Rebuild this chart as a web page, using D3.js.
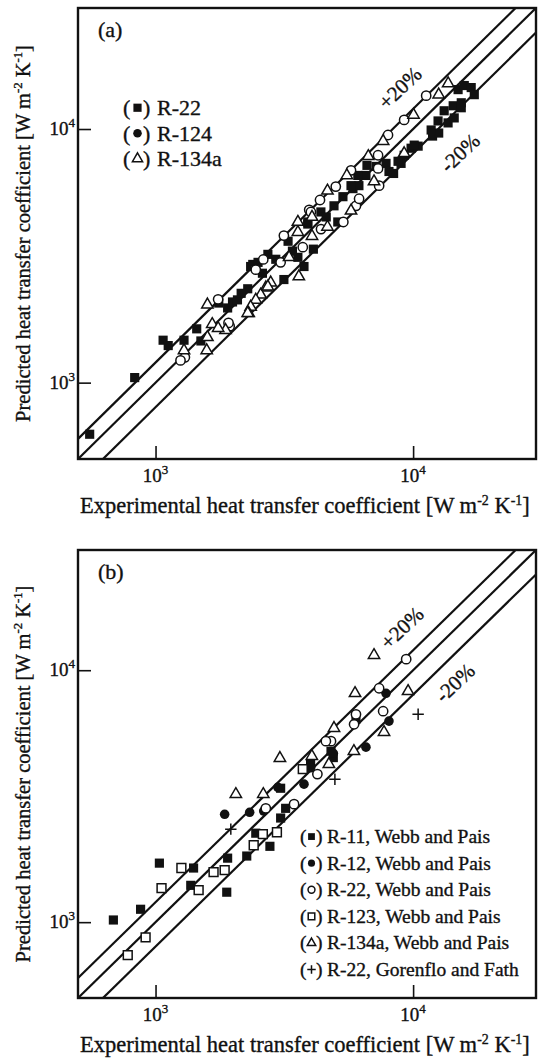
<!DOCTYPE html>
<html>
<head>
<meta charset="utf-8">
<script src="https://cdn.jsdelivr.net/npm/d3@7.9.0/dist/d3.min.js"></script>
<style>
  body { margin: 0; background: #fff; }
  svg { display: block; }
  text { font-family: "Liberation Serif", "Times New Roman", serif; fill: #111; stroke: #111; stroke-width: 0.35px; }
</style>
</head>
<body>
<svg id="chart" width="541" height="1058"></svg>
<script>
// shared axes (both panels are log-log, same range)
const domainHT = [500, 30000];
const tickVals = [1000, 10000];
const tickExp = ['3', '4'];
const guideRatios = [1.2, 1.0, 0.8];
const guideLabels = ['+20%', '-20%'];

// panel (a) : [experimental, predicted]
const aR22 = [[555,626],[830,1047],[1070,1470],[1120,1400],[1290,1470],[1445,1630],[1500,1460],[1760,2060],
  [1905,1970],[1990,2080],[2080,2120],[2280,2345],[2340,2870],[2385,2925],[2500,2980],[2730,3205],[2930,3065],
  [3150,2550],[3270,3610],[3570,3120],[3770,2870],[3900,4220],[4100,3360],[3900,4300],[4385,4710],[4930,4980],
  [5100,4300],[5340,5410],[5840,5820],[6160,5980],[6560,6560],[7180,7120],[7850,7320],[8060,6800],[8400,6680],
  [8980,7320],[9230,7880],[9820,8400],[10460,8560],[11900,9380],[12570,9640],[13670,10570],[14440,11060],
  [13200,11800],[14310,12350],[15380,12130],[14950,14300],[15800,14840],[16810,14570],[17280,13660],
  [15380,12690],[12500,10760],[11750,9910],[10100,8640],[8740,7460],[6620,7190],[5740,5980],[6100,6560],
  [2600,2700],[3400,3300],[4600,4500],[2150,2250]];
const aR124 = [[1300,1258],[1250,1224],[1940,1670],[1750,2130],[1920,1720],[2450,2790],[2620,3060],[3150,3800],
  [3060,2980],[3730,3420],[3950,4800],[4010,4710],[4350,5250],[5010,5930],[4390,4030],[5360,4300],[5740,6870],
  [6000,4980],[6170,5310],[7310,7880],[7310,6990],[7380,5980],[7990,9470],[9230,10860],[11240,13540]];
const aR134a = [[13680,15110],[12570,13660],[10040,11370],[7650,8960],[6700,7810],[5530,6560],[4650,5710],
  [4050,4500],[3570,3920],[9230,8020],[7050,6210],[5740,4760],[4650,4110],[3570,4300],[4050,3780],[3600,2620],
  [3300,3120],[2800,2480],[2680,2370],[2560,2220],[2450,2120],[2340,1990],[2300,1880],[1590,2030],[1660,1700],
  [1870,1610],[1590,1510],[1580,1340],[1750,1640],[2280,1880],[2730,2390],[1290,1340]];

// panel (b)
const bR11 = [[686,1020],[875,1125],[1035,1715],[1405,1640],[1370,1400],[1890,1315],[1905,1795],[2260,1830],
  [2450,2255],[2780,2000],[3060,2590],[3200,2830],[3060,3400],[4000,4240],[4800,4770],[4900,4500],[6000,6400]];
const bR12 = [[1855,2680],[2320,2730],[2630,2760],[2985,3430],[3770,3530],[7850,8100],[8060,6280],[6560,4950],
  [4900,4680],[4000,4100]];
const bR22 = [[9400,11060],[7380,8480],[7650,6875],[5900,6100],[6000,6680],[4800,5230],[4585,5230],[4250,3870],
  [3450,2940],[2680,2830]];
const bR123 = [[780,740],[915,870],[1055,1365],[1260,1640],[1470,1340],[1680,1580],[1855,1610],[2405,2020],
  [2610,2235],[2960,2275],[3730,4050]];
const bR134a = [[2050,3220],[2620,3220],[3040,4475],[4045,4560],[4710,4240],[4930,5890],[5950,8100],
  [7050,11470],[9560,8250],[7710,5675],[5890,4770]];
const bR22GF = [[1960,2340],[4970,3690],[10460,6690]];

const aLegend = ['R-22', 'R-124', 'R-134a'];
const bLegend = ['R-11, Webb and Pais', 'R-12, Webb and Pais', 'R-22, Webb and Pais',
  'R-123, Webb and Pais', 'R-134a, Webb and Pais', 'R-22, Gorenflo and Fath'];

const svg = d3.select('#chart');
const LEFT = 78, RIGHT = 536;

// thin "+" marker
const plusType = {
  draw(ctx, size) {
    const r = Math.sqrt(size) / 2;
    ctx.moveTo(-r, 0); ctx.lineTo(r, 0);
    ctx.moveTo(0, -r); ctx.lineTo(0, r);
  }
};

const marks = {
  fsq: { type: d3.symbolSquare, size: 84, fill: '#111', stroke: 'none' },
  fci: { type: d3.symbolCircle, size: 72, fill: '#111', stroke: 'none' },
  oci: { type: d3.symbolCircle, size: 68, fill: '#fff', stroke: '#111' },
  osq: { type: d3.symbolSquare, size: 78, fill: '#fff', stroke: '#111' },
  otr: { type: d3.symbolTriangle, size: 56, fill: '#fff', stroke: '#111' },
  plus: { type: plusType, size: 130, fill: 'none', stroke: '#111' }
};

function drawMark(g, m, cx, cy, scale = 1) {
  g.append('path')
    .attr('d', d3.symbol().type(m.type).size(m.size * scale)())
    .attr('transform', `translate(${cx},${cy})`)
    .attr('fill', m.fill)
    .attr('stroke', m.stroke)
    .attr('stroke-width', 1.5);
}

// "[W m-2 K-1]" with superscripts
function unitsLabel(t, lead) {
  t.append('tspan').text(lead + '[W m');
  t.append('tspan').attr('dy', -8).attr('font-size', '0.62em').text('-2');
  t.append('tspan').attr('dy', 8).text(' K');
  t.append('tspan').attr('dy', -8).attr('font-size', '0.62em').text('-1');
  t.append('tspan').attr('dy', 8).text(']');
}

function powLabel(t, i) {
  t.append('tspan').text('10');
  t.append('tspan').attr('dy', -8).attr('font-size', 13).text(tickExp[i]);
}

function drawPanel(p) {
  const g = svg.append('g');
  const x = d3.scaleLog().domain(domainHT).range([LEFT, RIGHT]);
  const y = d3.scaleLog().domain(domainHT).range([p.bottom, p.top]);

  const clipId = 'clip-' + p.id;
  g.append('clipPath').attr('id', clipId).append('rect')
    .attr('x', LEFT).attr('y', p.top)
    .attr('width', RIGHT - LEFT).attr('height', p.bottom - p.top);

  // y = x and the +/-20% band
  const line = d3.line().x(d => x(d[0])).y(d => y(d[1]));
  g.append('g').attr('clip-path', `url(#${clipId})`)
    .selectAll('path').data(guideRatios).join('path')
    .attr('d', r => line([[200, 200 * r], [80000, 80000 * r]]))
    .attr('fill', 'none').attr('stroke', '#111').attr('stroke-width', 2.2);

  // ticks (inward)
  g.append('g').attr('transform', `translate(0,${p.bottom})`)
    .call(d3.axisBottom(x).tickValues(tickVals).tickSizeInner(-13).tickSizeOuter(0).tickFormat(''))
    .call(a => a.select('.domain').remove())
    .selectAll('line').attr('stroke', '#111').attr('stroke-width', 1.6);
  g.append('g').attr('transform', `translate(${LEFT},0)`)
    .call(d3.axisLeft(y).tickValues(tickVals).tickSizeInner(-13).tickSizeOuter(0).tickFormat(''))
    .call(a => a.select('.domain').remove())
    .selectAll('line').attr('stroke', '#111').attr('stroke-width', 1.6);

  g.append('rect')
    .attr('x', LEFT).attr('y', p.top)
    .attr('width', RIGHT - LEFT).attr('height', p.bottom - p.top)
    .attr('fill', 'none').attr('stroke', '#111').attr('stroke-width', 2.4);

  tickVals.forEach((v, i) => {
    powLabel(g.append('text').attr('x', x(v)).attr('y', p.bottom + 23)
      .attr('text-anchor', 'middle').attr('font-size', 19), i);
    powLabel(g.append('text').attr('x', LEFT - 3).attr('y', y(v) + 6)
      .attr('text-anchor', 'end').attr('font-size', 19), i);
  });

  unitsLabel(g.append('text').attr('x', 80).attr('y', p.bottom + 54).attr('font-size', 22.5),
    'Experimental heat transfer coefficient ');
  unitsLabel(g.append('text')
    .attr('transform', `translate(30,${(p.top + p.bottom) / 2}) rotate(-90)`)
    .attr('text-anchor', 'middle').attr('font-size', 20.5),
    'Predicted heat transfer coefficient ');

  g.append('text').attr('x', 98).attr('y', p.top + 29).attr('font-size', 22).text(p.tag);

  [p.plusAt, p.minusAt].forEach((c, i) => {
    g.append('text')
      .attr('transform', `translate(${c[0]},${c[1]}) rotate(-44)`)
      .attr('text-anchor', 'middle').attr('dominant-baseline', 'central')
      .attr('font-size', 21).text(guideLabels[i]);
  });

  // data
  p.series.forEach(s => {
    s.data.forEach(d => drawMark(g, marks[s.mark], x(d[0]), y(d[1])));
  });

  // legend
  const L = p.legend;
  L.labels.forEach((lab, i) => {
    const yy = L.y0 + i * L.dy;
    g.append('text').attr('x', L.x).attr('y', yy).attr('font-size', L.fs).text('(');
    g.append('text').attr('x', L.x + L.close).attr('y', yy).attr('font-size', L.fs).text(')');
    g.append('text').attr('x', L.x + L.text).attr('y', yy).attr('font-size', L.fs).text(lab);
    drawMark(g, marks[L.marks[i]], L.x + L.sym, yy - L.fs * 0.33, L.scale);
  });
}

drawPanel({
  id: 'a', top: 8, bottom: 459, tag: '(a)',
  plusAt: [400, 88], minusAt: [460, 153],
  series: [
    { data: aR22, mark: 'fsq' },
    { data: aR124, mark: 'oci' },
    { data: aR134a, mark: 'otr' }
  ],
  legend: { labels: aLegend, marks: ['fsq', 'fci', 'otr'], x: 123, y0: 115, dy: 25.5, fs: 22,
    sym: 14.5, close: 20, text: 34, scale: 0.8 }
});

drawPanel({
  id: 'b', top: 550, bottom: 998, tag: '(b)',
  plusAt: [402, 628], minusAt: [455, 683],
  series: [
    { data: bR11, mark: 'fsq' },
    { data: bR12, mark: 'fci' },
    { data: bR22, mark: 'oci' },
    { data: bR123, mark: 'osq' },
    { data: bR134a, mark: 'otr' },
    { data: bR22GF, mark: 'plus' }
  ],
  legend: { labels: bLegend, marks: ['fsq', 'fci', 'oci', 'osq', 'otr', 'plus'], x: 300, y0: 843, dy: 26.6,
    fs: 19.5, sym: 11.5, close: 16, text: 27, scale: 0.55 }
});
</script>
</body>
</html>
